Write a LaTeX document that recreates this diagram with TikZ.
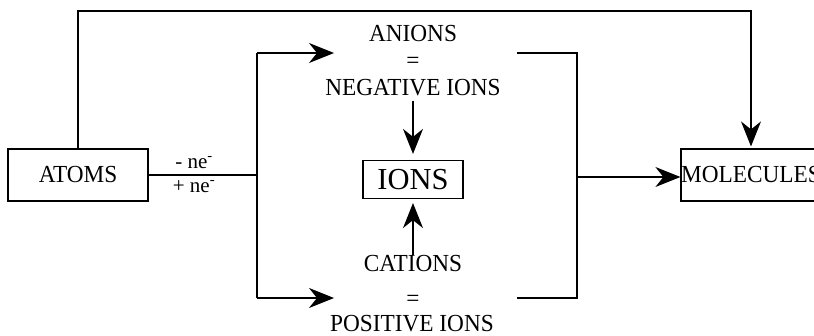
\documentclass[tikz,border=0pt]{standalone}
\usepackage{fontspec}
\setmainfont[FakeStretch=0.95]{Liberation Serif}
\newfontfamily\widefont{Liberation Serif}
\usetikzlibrary{arrows.meta}

\tikzset{
  line/.style={line width=1.2pt, draw=black},
  arr/.style={line, -{Stealth[length=25pt,width=20pt,inset=8pt]}},
  boxnode/.style={draw=black, line width=1.2pt, inner sep=0pt, font=\fontsize{24.5}{29}\selectfont},
  label/.style={inner sep=0pt, anchor=base, font=\fontsize{24.5}{29}\selectfont},
  small/.style={inner sep=0pt, anchor=base, font=\widefont\fontsize{21}{25}\selectfont},
}

\begin{document}
\begin{tikzpicture}[x=1pt, y=-1pt]
  \useasboundingbox (0,0) rectangle (814,335);

  % boxes
  \node[boxnode, minimum width=140pt, minimum height=52pt] (atoms) at (78,175) {ATOMS};
  \node[boxnode, minimum width=100pt, minimum height=38pt, font=\widefont\fontsize{30.5}{34}\selectfont] (ions) at (413,179.5) {IONS};
  \node[boxnode, minimum width=140pt, minimum height=52pt] (mol) at (751,175) {MOLECULES};

  % ion labels
  \node[label] (anions) at (413,41.7) {ANIONS};
  \node[label] (eqa) at (413,68.3) {=};
  \node[label] (neg) at (413,95) {NEGATIVE IONS};
  \node[label] (cat) at (413,271.7) {CATIONS};
  \node[label] (eqc) at (413,306.3) {=};
  \node[label] (pos) at (412,331.5) {POSITIVE IONS};

  % electron transfer labels
  \node[small] (lose) at (194,168) {- ne\textsuperscript{-}};
  \node[small] (gain) at (194,192.5) {+ ne\textsuperscript{-}};

  % junction points
  \coordinate (jm) at (257,175);
  \coordinate (jt) at (257,53);
  \coordinate (jb) at (257,298);
  \coordinate (at) at (334,53);
  \coordinate (ab) at (334,298);
  \coordinate (rt1) at (517,53);
  \coordinate (rt) at (577,53);
  \coordinate (rb) at (577,298);
  \coordinate (rb1) at (517,298);
  \coordinate (rm) at (577,177);
  \coordinate (up1) at (78,11);
  \coordinate (up2) at (751,11);

  % branching from atoms
  \draw[line] (atoms.east) -- (jm);
  \draw[line] (jt) -- (jb);
  \draw[arr] (jt) -- (at);
  \draw[arr] (jb) -- (ab);

  % into ions
  \draw[arr, shorten <=5pt, shorten >=6pt] (neg.south) -- (ions.north);
  \draw[arr, shorten >=4pt] (cat.north) -- (ions.south);

  % collecting bracket
  \draw[line] (rt1) -- (rt) -- (rb) -- (rb1);
  \draw[arr] (rm) -- (rm -| mol.west);

  % direct route atoms -> molecules
  \draw[arr, shorten >=2pt] (atoms.north) -- (up1) -- (up2) -- (mol.north);
\end{tikzpicture}
\end{document}
